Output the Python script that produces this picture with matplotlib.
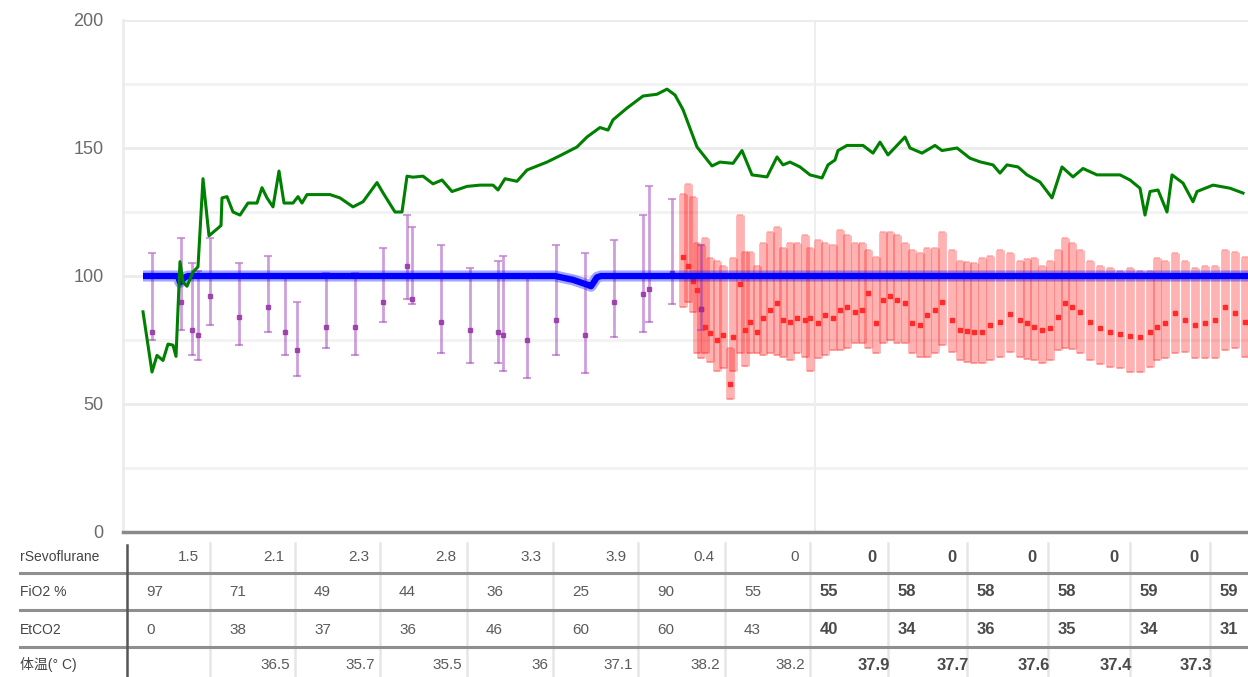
import numpy as np
import matplotlib
matplotlib.use('Agg')
import matplotlib.pyplot as plt
from matplotlib.lines import Line2D

plt.rcParams['font.family'] = ['Liberation Sans', 'Noto Sans CJK SC', 'DejaVu Sans']

#data: green trace (time index, value)
green_t = [20, 29, 34, 40, 45, 50, 53, 57, 60, 64, 70, 75, 80, 86, 92, 98, 99, 104, 110, 117,
           125, 134, 139, 144, 150, 156, 161, 170, 175, 179, 184, 207, 217, 230, 240, 254, 260, 272, 279, 284,
           290, 300, 310, 319, 329, 344, 357, 370, 375, 382, 394, 404, 424, 437, 454, 464, 477, 485, 490, 504,
           520, 534, 544, 552, 560, 574, 589, 597, 610, 619, 629, 644, 654, 660, 667, 677, 687, 699, 705, 712,
           715, 724, 740, 750, 757, 765, 782, 787, 799, 812, 819, 834, 847, 857, 870, 877, 884, 895, 904, 917,
           929, 939, 950, 960, 974, 997, 1007, 1017, 1022, 1027, 1035, 1044, 1049, 1060, 1070, 1074, 1090, 1107, 1120]
green_v = [86, 62.5, 69, 67, 73.4, 73, 68.6, 105.6, 97.6, 96, 101.5, 103.6, 138, 115.7, 117.7, 119.7, 130.5, 131, 125, 123.8,
           128.5, 128.5, 134.5, 130.5, 127, 141, 128.5, 128.5, 131, 128.5, 131.8, 131.8, 130.5, 127, 129, 136.5, 132.5, 125, 125, 139,
           138.6, 139, 136, 137.5, 133, 135, 135.5, 135.5, 133.6, 138, 137, 141.4, 144.5, 147, 150.4, 154.3, 158, 157, 161, 165.6,
           170.3, 171, 173, 170.7, 165, 150.4, 143, 144.5, 144, 149, 139.5, 138.7, 146.5, 143.4, 144.5, 142.6, 139.5, 138.3, 143.4, 145.3,
           149, 151, 151, 148, 152.3, 147.3, 154.3, 150, 148, 151, 149, 150, 146, 144.6, 143.4, 140.2, 143.4, 142.6, 139.5, 136.7,
           130.5, 142.6, 138.7, 142, 139.5, 139.5, 137.5, 134.3, 123.8, 133, 133.6, 125, 139.5, 136.3, 129, 133, 135.5, 134.3, 132.4]

#blue trace
blue_t = [20, 55, 57, 62, 65, 432, 450, 465, 468, 474, 478, 1125]
blue_v = [100, 100, 97.5, 99.5, 100, 100, 98.5, 96.5, 96, 99.5, 100, 100]

#purple error bars
purple_t = [29, 58, 69, 75, 87, 116, 145, 162, 174, 203, 232, 260, 284, 289, 318, 347, 375, 380, 404, 433,
            462, 491, 520, 526, 549, 578]
purple_hi = [109, 115, 105, 102, 115, 105, 108, 100, 90, 101, 101, 111, 124, 119, 112, 103, 106, 108, 100, 112,
             109, 114, 124, 135, 130, 112]
purple_mid = [78, 90, 79, 77, 92, 84, 88, 78, 71, 80, 80, 90, 104, 91, 82, 79, 78, 77, 75, 83,
              77, 90, 93, 95, 101, 87]
purple_lo = [75, 79, 69, 67, 81, 73, 78, 69, 61, 72, 69, 82, 91, 89, 70, 66, 66, 63, 60, 69,
             62, 76, 78, 82, 89, 79]

#red error bars
red_t = [560, 565, 570, 574, 578, 582, 587, 594, 600, 607, 610, 617, 622, 627, 634, 640, 647, 654, 660, 667,
         674, 682, 687, 695, 702, 710, 717, 724, 732, 739, 745, 753, 760, 767, 774, 782, 789, 797, 804, 812,
         819, 829, 837, 844, 851, 859, 867, 877, 887, 897, 904, 911, 919, 927, 935, 942, 949, 957, 967, 977,
         987, 997, 1007, 1017, 1027, 1034, 1042, 1052, 1062, 1072, 1082, 1092, 1102, 1112, 1122]
red_hi = [132, 136, 131, 113, 112, 115, 107, 106, 104, 72, 107, 124, 109.5, 109.5, 104, 113, 117, 119, 111, 113,
          113, 116, 111, 114, 113, 112, 118, 116, 113, 113, 110, 107.5, 117, 117, 116, 113, 110, 109, 111, 111,
          117, 110, 106, 105.5, 105, 107, 108, 110, 109, 106, 106.5, 107, 104, 106, 110, 115, 113, 110, 106, 104,
          103, 102, 103, 102, 102, 107, 106, 109, 106, 103, 104, 104, 110, 109.5, 107.5]
red_mid = [107.5, 104, 98, 94.5, 87, 80, 77.6, 75, 77, 58, 76, 97, 79, 82, 78, 83.6, 86.7, 89.4, 82.8, 82,
           83.6, 82.8, 83.6, 81.6, 84.8, 83.6, 86.7, 88, 86, 86.7, 93.3, 81.6, 90.6, 92, 90.6, 89.4, 81.6, 81, 84.8, 86.7,
           90, 83, 79, 78.5, 78, 78, 81, 82, 85, 83, 81.5, 80, 79, 79.6, 84, 89.4, 88, 86, 82, 79.5,
           78, 77.3, 76.5, 76, 78, 80, 81.6, 85.5, 82.8, 81, 81.6, 82.8, 88, 85.5, 82]
red_lo = [88, 90, 86, 70, 68, 70, 66.5, 63, 64, 52, 63, 70, 65, 70, 70, 69, 70, 69, 68.5, 67,
          70, 68.5, 63, 68, 69, 71, 71, 72, 73.7, 74, 72, 70, 73.7, 75, 74, 73.7, 70, 68.5, 68.5, 70,
          73, 70.4, 67, 66.5, 66, 66, 67, 68.5, 70.4, 68.5, 67.5, 67, 66, 67, 71, 72, 71.5, 70, 67, 65.5,
          64.6, 64, 62.6, 62.6, 64.6, 67, 68, 70, 70.5, 68, 68, 68, 71, 72, 68.5]

#table
row_labels = ['rSevoflurane', 'FiO2 %', 'EtCO2', '体温(° C)']
sevo = ['1.5', '2.1', '2.3', '2.8', '3.3', '3.9', '0.4', '0', '0', '0', '0', '0', '0']
fio2 = ['97', '71', '49', '44', '36', '25', '90', '55', '55', '58', '58', '58', '59', '59']
etco2 = ['0', '38', '37', '36', '46', '60', '60', '43', '40', '34', '36', '35', '34', '31']
temp = ['', '36.5', '35.7', '35.5', '36', '37.1', '38.2', '38.2', '37.9', '37.7', '37.6', '37.4', '37.3']

#layout (pixels)
W, H = 1248, 677
col_edges = [127, 210, 295, 380, 467, 553, 638, 725, 810, 888, 967, 1048, 1130, 1210, 1290]
row_y = [557, 592, 630, 665]
line_y = [573, 610, 647]


def fx(x):
    return x / W


def fy(y):
    return 1 - y / H


fig = plt.figure(figsize=(W / 100, H / 100), dpi=100)
ax = fig.add_axes([fx(123), fy(532), 1125 / W, 512 / H])
ax.set_xlim(0, 1125)
ax.set_ylim(0, 200)
ax.set_xticks([])
ax.set_yticks([0, 50, 100, 150, 200])
ax.tick_params(axis='y', length=0, pad=14, labelsize=13, labelcolor='#6a6a6a')
for s in ['top', 'right']:
    ax.spines[s].set_visible(False)
ax.spines['left'].set_color('#ececec')
ax.spines['left'].set_linewidth(2)
ax.spines['bottom'].set_color('#8a8a8a')
ax.spines['bottom'].set_linewidth(2.5)
for gy in range(25, 201, 25):
    ax.axhline(gy, color='#ebebeb' if gy % 50 == 0 else '#f2f2f2', lw=2, zorder=0)
ax.axvline(692, color='#eeeeee', lw=1.5, zorder=0)

#red bars
red_mid_a = np.array(red_mid)
ax.errorbar(red_t, red_mid, yerr=[red_mid_a - np.array(red_lo), np.array(red_hi) - red_mid_a],
            fmt='none', ecolor='#ff0000', elinewidth=6.3, capsize=2, capthick=1.2, alpha=0.3, zorder=2)
ax.plot(red_t, red_mid, 's', color='#ff2a2a', ms=3.5, zorder=3)

#purple bars
purple_mid_a = np.array(purple_mid)
ax.errorbar(purple_t, purple_mid, yerr=[purple_mid_a - np.array(purple_lo), np.array(purple_hi) - purple_mid_a],
            fmt='none', ecolor='#a040b8', elinewidth=2, capsize=3, capthick=1.5, alpha=0.5, zorder=2)
ax.plot(purple_t, purple_mid, 's', color='#952fa5', ms=3.5, alpha=0.8, zorder=3)

#blue
ax.plot(blue_t, blue_v, color='#0000ff', lw=8, alpha=0.35, solid_capstyle='butt', zorder=4)
ax.plot(blue_t, blue_v, color='#0000ff', lw=4.5, solid_capstyle='butt', zorder=5)

#green
ax.plot(green_t, green_v, color='#008000', lw=2.2, zorder=6)

#table grid
for ly in line_y:
    fig.add_artist(Line2D([fx(20), fx(W)], [fy(ly), fy(ly)], color='#8f8f8f', lw=2.2))
for cx in col_edges[1:-1]:
    fig.add_artist(Line2D([fx(cx), fx(cx)], [fy(543), fy(H)], color='#e6e6e6', lw=1.8, zorder=0))
fig.add_artist(Line2D([fx(127), fx(127)], [fy(545), fy(H)], color='#555555', lw=1.8))

for lab, ry in zip(row_labels, row_y):
    fig.text(fx(20), fy(ry), lab, fontsize=10, color='#444444', ha='left', va='center')


def cell_style(i):
    if i >= 8:
        return dict(fontsize=12, color='#4a4a4a', fontweight='bold')
    return dict(fontsize=11, color='#5a5a5a')


for i, v in enumerate(sevo):
    fig.text(fx(col_edges[i + 1] - 11), fy(row_y[0]), v, ha='right', va='center', **cell_style(i))
for i, v in enumerate(fio2):
    off = 19 if i < 8 else 10
    fig.text(fx(col_edges[i] + off), fy(row_y[1]), v, ha='left', va='center', **cell_style(i))
for i, v in enumerate(etco2):
    off = 19 if i < 8 else 10
    fig.text(fx(col_edges[i] + off), fy(row_y[2]), v, ha='left', va='center', **cell_style(i))
for i, v in enumerate(temp):
    off = 5 if i < 8 else -2
    fig.text(fx(col_edges[i + 1] - off), fy(row_y[3]), v, ha='right', va='center', **cell_style(i))

fig.savefig('out.png', dpi=100)
